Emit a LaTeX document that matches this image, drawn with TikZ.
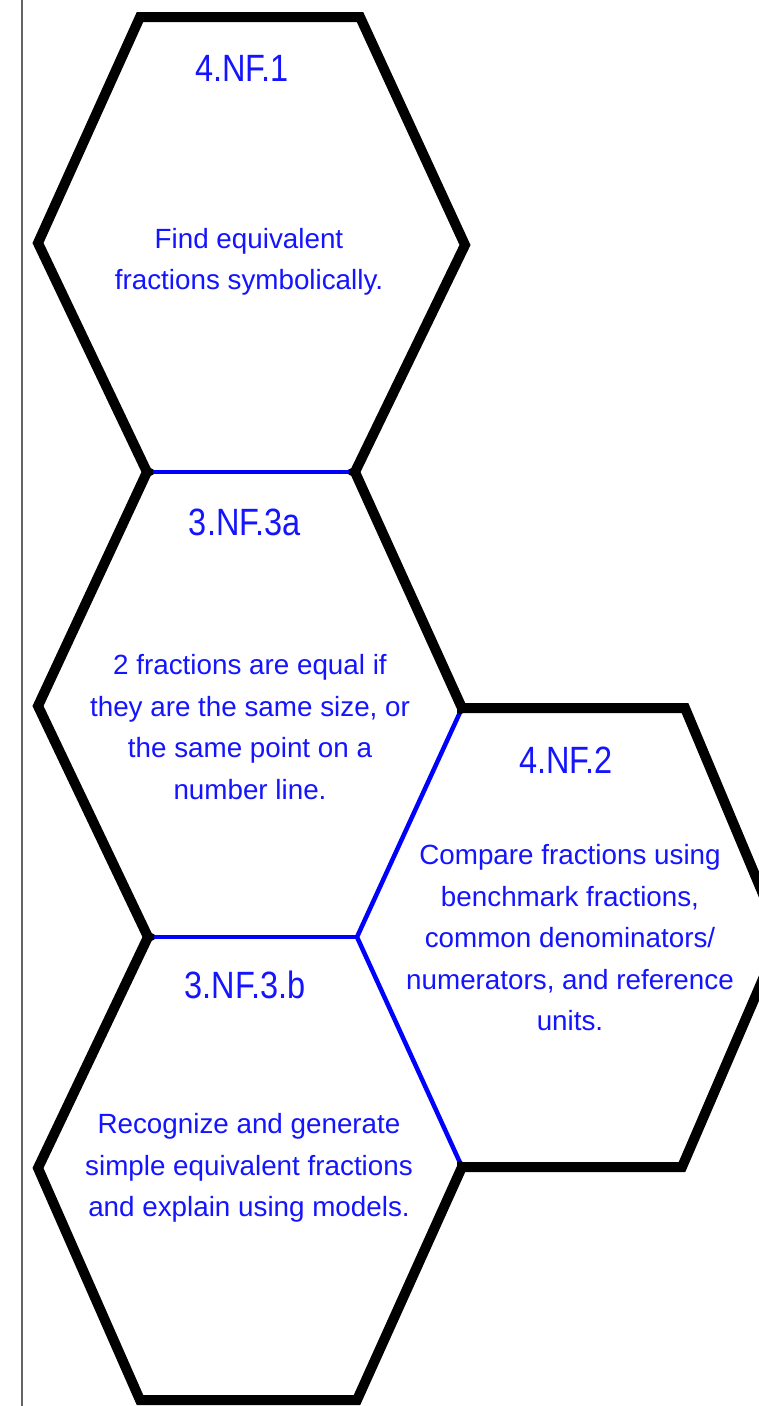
\documentclass[tikz,border=0pt]{standalone}
\usepackage{fontspec}
\setmainfont{Liberation Sans}
\definecolor{txtblue}{RGB}{20,20,255}
\definecolor{edgeblue}{RGB}{0,0,255}
\definecolor{rulegray}{RGB}{100,100,100}
\newcommand{\tallttl}[1]{\scalebox{1}[1.17]{#1}}
\tikzset{
  heavy/.style={line width=10pt, draw=black, line join=miter, line cap=rect},
  shared/.style={line width=4.5pt, draw=edgeblue},
  title/.style={inner sep=0pt, text=txtblue, font=\fontsize{32.5}{36}\selectfont},
  body/.style={inner sep=0pt, text=txtblue, align=center, font=\fontsize{27.8}{41.5}\selectfont},
}
\begin{document}
\begin{tikzpicture}[x=1pt,y=-1pt]
\useasboundingbox (0,0) rectangle (759,1406);
\clip (0,0) rectangle (759,1406);
\fill[white] (0,0) rectangle (759,1406);
% left rule
\coordinate (r1) at (22,0);
\coordinate (r2) at (22,1406);
\draw[rulegray, line width=1.5pt] (r1) -- (r2);
% vertices
\coordinate (a1) at (140,17);
\coordinate (a2) at (360,17);
\coordinate (a3) at (465,245);
\coordinate (a4) at (355,472);
\coordinate (a5) at (147,472);
\coordinate (a6) at (38,243);
\coordinate (b3) at (462,708);
\coordinate (b4) at (357,937);
\coordinate (b5) at (148,937);
\coordinate (b6) at (38,706);
\coordinate (c3) at (462,1167);
\coordinate (c4) at (357,1400);
\coordinate (c5) at (140,1400);
\coordinate (c6) at (38,1168);
\coordinate (d2) at (685,708);
\coordinate (d3) at (781,937);
\coordinate (d4) at (682,1167);
% shared blue edges
\draw[shared] (a5) -- (a4);
\draw[shared] (b5) -- (b4);
\draw[shared] (b3) -- (b4) -- (c3);
% black outline
\draw[heavy] (a5) -- (a6) -- (a1) -- (a2) -- (a3) -- (a4);
\draw[heavy] (a5) -- (b6) -- (b5);
\draw[heavy] (a4) -- (b3);
\draw[heavy] (b3) -- (d2) -- (d3) -- (d4) -- (c3);
\draw[heavy] (b5) -- (c6) -- (c5) -- (c4) -- (c3);
% texts
\node[title] (h1) at (242,68) {\tallttl{4.NF.1}};
\node[body] (p1) at (249,262) {Find equivalent\\fractions symbolically.};
\node[title] (h2) at (245,522) {\tallttl{3.NF.3a}};
\node[body] (p2) at (250,727) {2 fractions are equal if\\they are the same size, or\\the same point on a\\number line.};
\node[title] (h3) at (245,985) {\tallttl{3.NF.3.b}};
\node[body] (p3) at (249,1168) {Recognize and generate\\simple equivalent fractions\\and explain using models.};
\node[title] (h4) at (566,760) {\tallttl{4.NF.2}};
\node[body] (p4) at (570,938) {Compare fractions using\\benchmark fractions,\\common denominators/\\numerators, and reference\\units.};
\end{tikzpicture}
\end{document}
